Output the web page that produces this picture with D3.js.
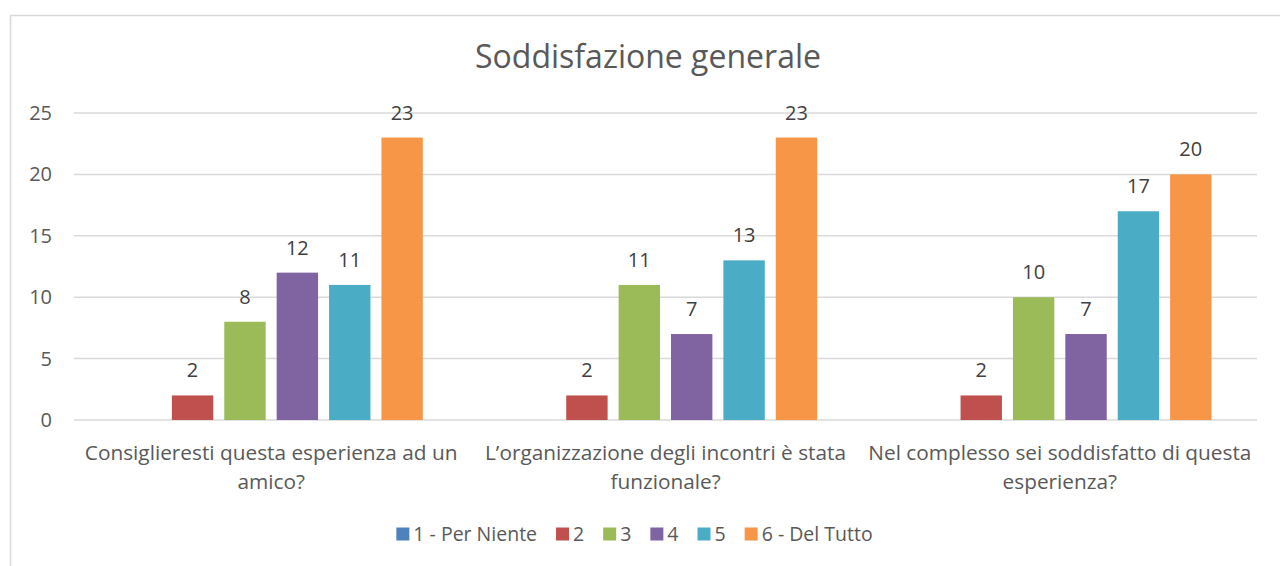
<!DOCTYPE html>
<html>
<head>
<meta charset="utf-8">
<script src="https://cdn.jsdelivr.net/npm/d3@7"></script>
<style>
  body { margin: 0; background: #fff; }
  svg text { font-family: "Open Sans", "Noto Sans", sans-serif; }
</style>
</head>
<body>
<div id="chart"></div>
<script>
const categories = [
  "Consiglieresti questa esperienza ad un amico?",
  "L’organizzazione degli incontri è stata funzionale?",
  "Nel complesso sei soddisfatto di questa esperienza?",
];
const seriesNames = ["1 - Per Niente", "2", "3", "4", "5", "6 - Del Tutto"];
const seriesColors = ["#4F81BD", "#C0504D", "#9BBB59", "#8064A2", "#4BACC6", "#F79646"];
// values per series, one entry per category
const perNiente = [0, 0, 0];
const val2 = [2, 2, 2];
const val3 = [8, 11, 10];
const val4 = [12, 7, 7];
const val5 = [11, 13, 17];
const delTutto = [23, 23, 20];
const yTicks = [0, 5, 10, 15, 20, 25];

const allValues = [perNiente, val2, val3, val4, val5, delTutto];

const totalWidth = 1280;
const totalHeight = 566;
const margin = { top: 113, right: 23, bottom: 146, left: 74 };
const width = totalWidth - margin.left - margin.right;
const height = totalHeight - margin.top - margin.bottom;

const svg = d3.select("#chart").append("svg")
  .attr("width", totalWidth)
  .attr("height", totalHeight);

// chart border
svg.append("rect")
  .attr("x", 10.5).attr("y", 15.5)
  .attr("width", totalWidth).attr("height", totalHeight)
  .style("fill", "none")
  .style("stroke", "#d9d9d9")
  .style("stroke-width", 1.5);

const g = svg.append("g").attr("transform", `translate(${margin.left},${margin.top})`);

const x0 = d3.scaleBand().domain(categories).range([0, width]).padding(0);
const groupPad = 45.5;
const x1 = d3.scaleBand()
  .domain(seriesNames)
  .range([groupPad, x0.bandwidth() - groupPad])
  .paddingInner(0.21)
  .paddingOuter(0);
const y = d3.scaleLinear().domain([0, 25]).range([height, 0]);

// gridlines
g.append("g")
  .selectAll("line")
  .data(yTicks)
  .join("line")
  .attr("x1", 0)
  .attr("x2", width)
  .attr("y1", (d) => y(d))
  .attr("y2", (d) => y(d))
  .style("stroke", "#d9d9d9")
  .style("stroke-width", 1.5);

// y tick labels
g.append("g")
  .selectAll("text")
  .data(yTicks)
  .join("text")
  .attr("x", -22)
  .attr("y", (d) => y(d))
  .attr("dy", "0.35em")
  .style("text-anchor", "end")
  .style("font-size", "20px")
  .style("fill", "#595959")
  .text((d) => d);

// bars
const groups = g.append("g")
  .selectAll("g")
  .data(categories)
  .join("g")
  .attr("transform", (d) => `translate(${x0(d)},0)`);

const barData = (c, ci) => seriesNames.map((s, si) => ({ s, si, v: allValues[si][ci] }));

groups.selectAll("rect")
  .data(barData)
  .join("rect")
  .attr("x", (d) => x1(d.s))
  .attr("width", x1.bandwidth())
  .attr("y", (d) => y(d.v))
  .attr("height", (d) => y(0) - y(d.v))
  .style("fill", (d) => seriesColors[d.si]);

// data labels (skip the empty first series)
groups.selectAll("text")
  .data((c, ci) => barData(c, ci).filter((d) => d.v > 0))
  .join("text")
  .attr("x", (d) => x1(d.s) + x1.bandwidth() / 2)
  .attr("y", (d) => y(d.v) - 25)
  .attr("dy", "0.35em")
  .style("text-anchor", "middle")
  .style("font-size", "20px")
  .style("fill", "#404040")
  .text((d) => d.v);

// category labels, wrapped
function wrap(textSel, maxWidth) {
  textSel.each(function (d) {
    const text = d3.select(this);
    const words = d.split(/\s+/);
    let line = [];
    let tspan = text.text(null).append("tspan").attr("x", 0).attr("dy", 0);
    words.forEach((w) => {
      line.push(w);
      tspan.text(line.join(" "));
      if (tspan.node().getComputedTextLength() > maxWidth && line.length > 1) {
        line.pop();
        tspan.text(line.join(" "));
        line = [w];
        tspan = text.append("tspan").attr("x", 0).attr("dy", "29px").text(w);
      }
    });
  });
}

g.append("g")
  .selectAll("text")
  .data(categories)
  .join("text")
  .attr("transform", (d) => `translate(${x0(d) + x0.bandwidth() / 2},${height + 40})`)
  .style("text-anchor", "middle")
  .style("font-size", "20.8px")
  .style("fill", "#595959")
  .text((d) => d)
  .call(wrap, x0.bandwidth() - 2);

// title
svg.append("text")
  .attr("x", 648)
  .attr("y", 68)
  .style("text-anchor", "middle")
  .style("font-size", "32px")
  .style("fill", "#595959")
  .text("Soddisfazione generale");

// legend
const legend = svg.append("g").attr("class", "legend");
const items = legend.selectAll("g")
  .data(seriesNames)
  .join("g");
items.append("rect")
  .attr("width", 13)
  .attr("height", 13)
  .attr("y", -6.5)
  .style("fill", (d, i) => seriesColors[i]);
items.append("text")
  .attr("x", 17)
  .attr("dy", "0.35em")
  .style("font-size", "19.5px")
  .style("fill", "#595959")
  .text((d) => d);

let cursor = 0;
items.each(function () {
  const item = d3.select(this);
  item.attr("transform", `translate(${cursor},534)`);
  cursor += 17 + item.select("text").node().getComputedTextLength() + 19;
});
const legendWidth = cursor - 19;
legend.attr("transform", `translate(${634.5 - legendWidth / 2},0)`);
</script>
</body>
</html>
